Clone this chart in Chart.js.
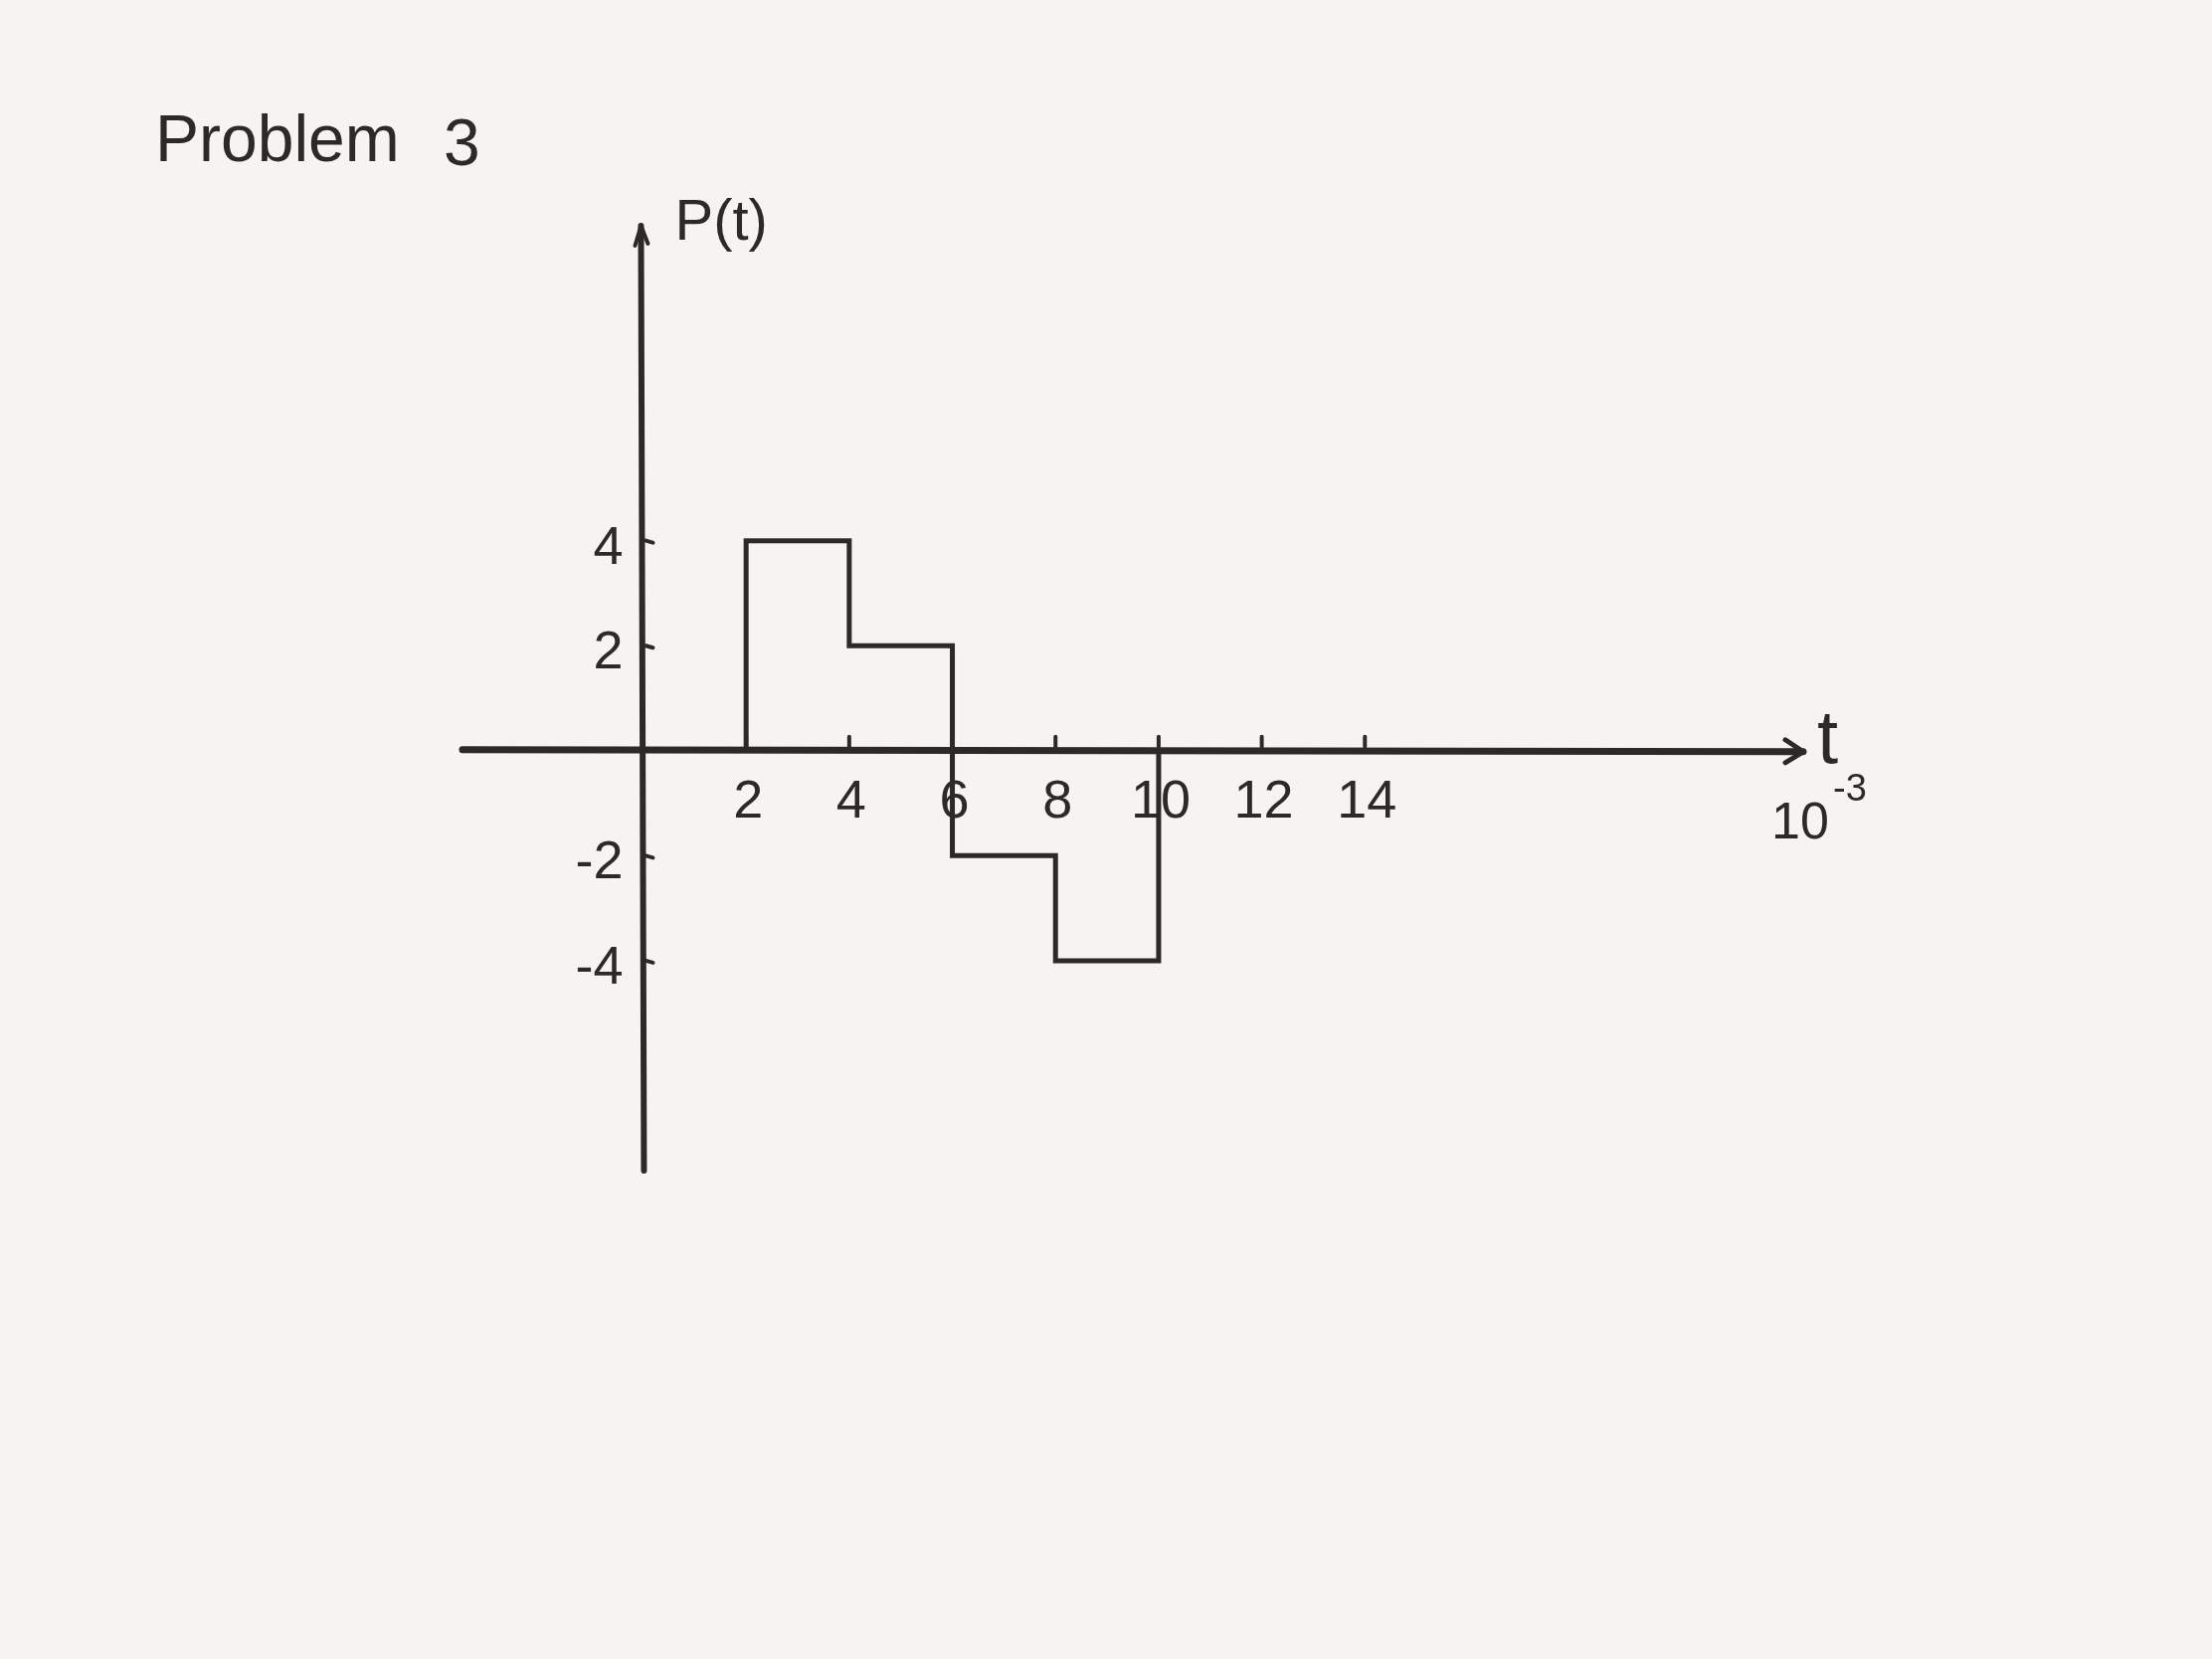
<!DOCTYPE html>
<html>

<head>
    <title>Problem 3</title>
    <meta charset="utf-8">
    <script src="https://cdn.jsdelivr.net/npm/chart.js@4.4.1/dist/chart.umd.min.js"></script>
    <style>
        html, body { margin: 0; padding: 0; background: #f5f4f0; }
        canvas { display: block; }
    </style>
    <script>
        // step edges along t (x 10^-3) and the level of P(t) between them
        var edges = [2, 4, 6, 8, 10];
        var levels = [4, 2, -2, -4];
        var xTicks = [2, 4, 6, 8, 10, 12, 14];
        var yTicks = [4, 2, -2, -4];
        var xTickLabels = ["2", "4", "6", "8", "10", "12", "14"];
        var yTickLabels = ["4", "2", "-2", "-4"];

        var INK = "#2b2a26";

        function stepPoints() {
            var pts = [{ x: edges[0], y: 0 }];
            for (var i = 0; i < levels.length; i++) {
                pts.push({ x: edges[i], y: levels[i] });
                pts.push({ x: edges[i + 1], y: levels[i] });
            }
            pts.push({ x: edges[edges.length - 1], y: 0 });
            return pts;
        }

        // hand-drawn style axes through the origin, drawn from the chart's own scales
        var sketchAxes = {
            id: "sketchAxes",
            beforeDatasetsDraw: function(chart) {
                var ctx = chart.ctx;
                var xs = chart.scales.x, ys = chart.scales.y;
                var x0 = xs.getPixelForValue(0), y0 = ys.getPixelForValue(0);
                var xL = xs.getPixelForValue(xs.min), xR = xs.getPixelForValue(xs.max);
                var yT = ys.getPixelForValue(ys.max), yB = ys.getPixelForValue(ys.min);
                ctx.save();
                ctx.strokeStyle = INK;
                ctx.fillStyle = INK;
                ctx.lineCap = "round";
                ctx.lineJoin = "round";

                // x axis
                ctx.lineWidth = 7;
                ctx.beginPath();
                ctx.moveTo(xL, y0 - 1);
                ctx.lineTo(xR, y0 + 1);
                ctx.stroke();
                ctx.lineWidth = 5;
                ctx.beginPath();
                ctx.moveTo(xR - 18, y0 - 11);
                ctx.lineTo(xR, y0 + 1);
                ctx.lineTo(xR - 18, y0 + 12);
                ctx.stroke();

                // y axis
                ctx.lineWidth = 6;
                ctx.beginPath();
                ctx.moveTo(x0 - 2, yT);
                ctx.lineTo(x0 + 1, yB);
                ctx.stroke();
                ctx.lineWidth = 4;
                ctx.beginPath();
                ctx.moveTo(x0 - 8, yT + 20);
                ctx.lineTo(x0 - 2, yT);
                ctx.lineTo(x0 + 5, yT + 18);
                ctx.stroke();

                // tick marks
                ctx.lineWidth = 4;
                xTicks.forEach(function(v) {
                    var px = xs.getPixelForValue(v);
                    ctx.beginPath();
                    ctx.moveTo(px, y0 - 14);
                    ctx.lineTo(px, y0 - 4);
                    ctx.stroke();
                });
                yTicks.forEach(function(v) {
                    var py = ys.getPixelForValue(v);
                    ctx.beginPath();
                    ctx.moveTo(x0 + 3, py);
                    ctx.lineTo(x0 + 10, py + 2);
                    ctx.stroke();
                });

                // tick labels
                ctx.font = "54px 'Liberation Sans'";
                ctx.textAlign = "center";
                ctx.textBaseline = "middle";
                xTicks.forEach(function(v, i) {
                    ctx.fillText(xTickLabels[i], xs.getPixelForValue(v) + 2, y0 + 52);
                });
                ctx.textAlign = "right";
                yTicks.forEach(function(v, i) {
                    ctx.fillText(yTickLabels[i], x0 - 20, ys.getPixelForValue(v) + 8);
                });

                // axis names and title
                ctx.textAlign = "left";
                ctx.textBaseline = "alphabetic";
                ctx.font = "58px 'Liberation Sans'";
                ctx.fillText("P(t)", x0 + 32, yT + 14);
                ctx.font = "76px 'Liberation Sans'";
                ctx.fillText("t", xR + 14, y0 + 12);
                ctx.font = "52px 'Liberation Sans'";
                ctx.fillText("10", xR - 32, y0 + 88);
                ctx.font = "38px 'Liberation Sans'";
                ctx.fillText("-3", xR + 30, y0 + 50);
                ctx.font = "66px 'Liberation Sans'";
                ctx.fillText("Problem", 156, 162);
                ctx.fillText("3", 446, 166);
                ctx.restore();
            }
        };

        function LoadChart() {
            var ctx = document.getElementById("myChart");
            return new Chart(ctx, {
                type: "line",
                data: {
                    datasets: [{
                        data: stepPoints(),
                        borderColor: INK,
                        borderWidth: 5,
                        pointRadius: 0,
                        tension: 0,
                        fill: false
                    }]
                },
                options: {
                    responsive: false,
                    animation: false,
                    devicePixelRatio: 1,
                    layout: { padding: { left: 465, right: 411, top: 227, bottom: 491 } },
                    plugins: {
                        legend: { display: false },
                        tooltip: { enabled: false }
                    },
                    scales: {
                        x: { type: "linear", min: -3.5, max: 22.5, display: false },
                        y: { type: "linear", min: -8, max: 10, display: false }
                    }
                },
                plugins: [sketchAxes]
            });
        }
    </script>
</head>

<body>
    <canvas id="myChart" width="2224" height="1668"></canvas>
    <script>
        var chart = LoadChart()
    </script>
</body>

</html>
